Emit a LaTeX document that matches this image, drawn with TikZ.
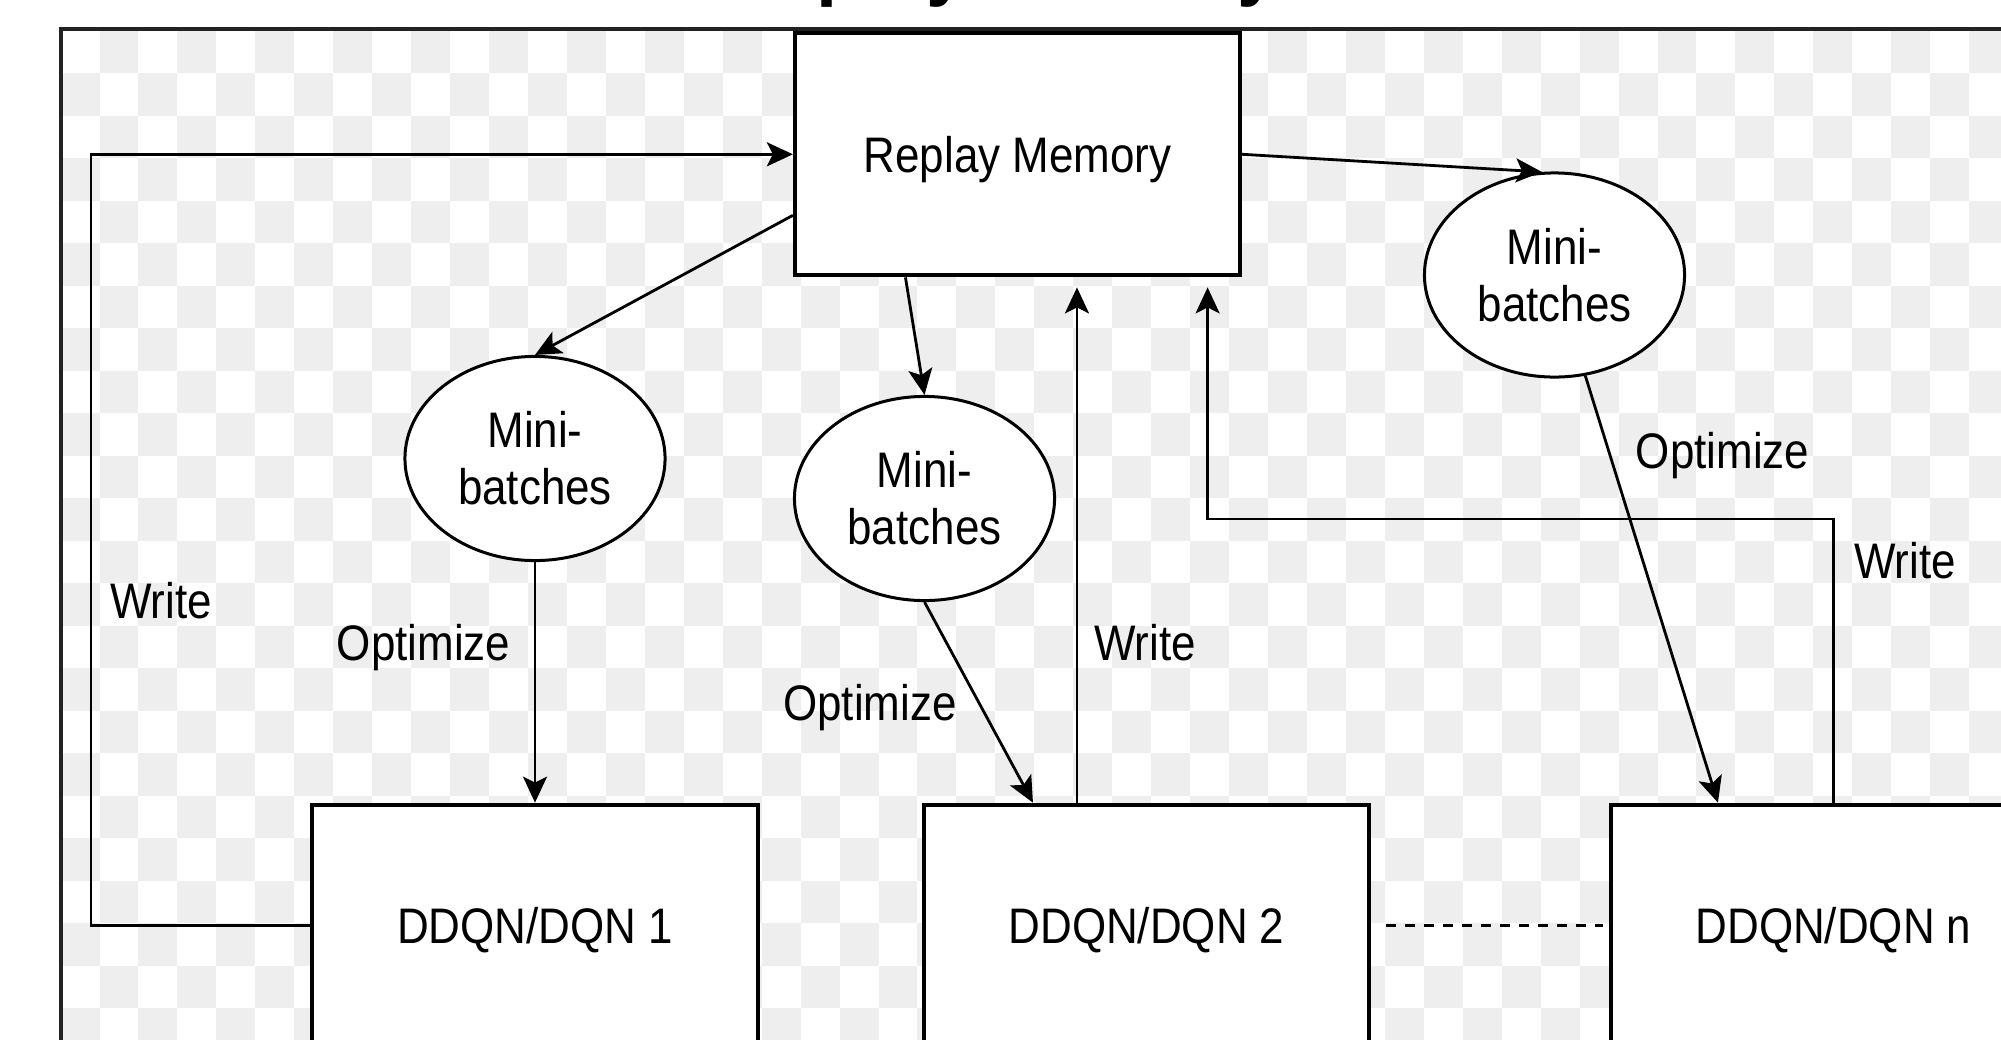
\documentclass[tikz,border=0pt]{standalone}
\usepackage{fontspec}
\setmainfont{Liberation Sans}[FakeStretch=0.88]
\usetikzlibrary{arrows.meta,shapes.geometric}
\definecolor{checkgrey}{RGB}{238,238,238}
\definecolor{framegrey}{RGB}{34,34,34}

\begin{document}
\begin{tikzpicture}[x=0.01cm, y=-0.01cm,
    every node/.style={font=\fontsize{14.2pt}{16.2pt}\selectfont},
    box/.style={draw, line width=0.04cm, fill=white, minimum width=4.45cm, minimum height=2.42cm, inner sep=0pt, text depth=0pt},
    batch/.style={draw, ellipse, line width=0.03cm, fill=white, minimum width=2.6cm, minimum height=2.04cm, inner sep=0pt, align=center},
    conn/.style={line width=0.028cm, -{Stealth[length=0.26cm, width=0.24cm, inset=0.06cm]}},
    lbl/.style={anchor=base}]
    \useasboundingbox (0,0) rectangle (2001,1039);
    % checkered background inside the frame
    \begin{scope}
        \clip (60.5,30.7) rectangle (2001,1039);
        \foreach \i in {0,...,50}{
            \foreach \j in {0,...,24}{
                \pgfmathtruncatemacro\odd{mod(\i+\j,2)}
                \ifnum\odd=1
                    \fill[checkgrey] (60.55+38.95*\i,30.7+42.49*\j) rectangle ++(38.95,42.49);
                \fi
            }
        }
    \end{scope}
    \draw[framegrey, line width=0.04cm] (61,29) rectangle (2100,1100);
    \node[font=\fontsize{24.5pt}{28pt}\selectfont\bfseries, anchor=base] (title) at (1000,-11) {Replay Memory};

    \node[box] (rm) at (1017.5,154.3) {Replay Memory};
    \node[box] (dq1) at (535,925.7) {DDQN/DQN 1};
    \node[box] (dq2) at (1146.5,925.7) {DDQN/DQN 2};
    \node[box] (dqn) at (1833.5,925.7) {DDQN/DQN n};
    \node[batch] (mb1) at (535,458.5) {Mini-\\batches};
    \node[batch] (mb2) at (924.5,498.5) {Mini-\\batches};
    \node[batch] (mb3) at (1554.5,275) {Mini-\\batches};

    \coordinate (wl) at (91,154.3);
    \coordinate (w2) at ([xshift=-0.695cm]dq2.north);
    \coordinate (wn) at (1207.6,519);

    \draw[conn] (rm.east) -- (mb3.97);
    \draw[conn] ([yshift=-0.61cm]rm.west) -- (mb1.north);
    \draw[conn] ([xshift=-1.12cm]rm.south) -- (mb2.north);
    \draw[conn] (mb1.south) -- (dq1.north);
    \draw[conn] (mb2.south) -- ([xshift=-1.135cm]dq2.north);
    \draw[conn] (mb3.287) -- ([xshift=-1.155cm]dqn.north);
    % write paths back to the memory
    \draw[conn] (dq1.west) -| (wl) -- (rm.west);
    \draw[conn, shorten >=0.1cm] (w2) -- (w2 |- rm.south);
    \draw[conn, shorten >=0.1cm] (dqn.north) |- (wn) -- (wn |- rm.south);
    \draw[line width=0.025cm, dash pattern=on 0.1cm off 0.09cm, shorten <=0.15cm, shorten >=0.06cm] (dq2.east) -- (dqn.west);

    \node[lbl] (wr1) at (161,618) {Write};
    \node[lbl] (op1) at (423.5,660) {Optimize};
    \node[lbl] (op2) at (870,720) {Optimize};
    \node[lbl] (wr2) at (1145,660) {Write};
    \node[lbl] (op3) at (1722.5,468) {Optimize};
    \node[lbl] (wr3) at (1905,578) {Write};
\end{tikzpicture}
\end{document}
